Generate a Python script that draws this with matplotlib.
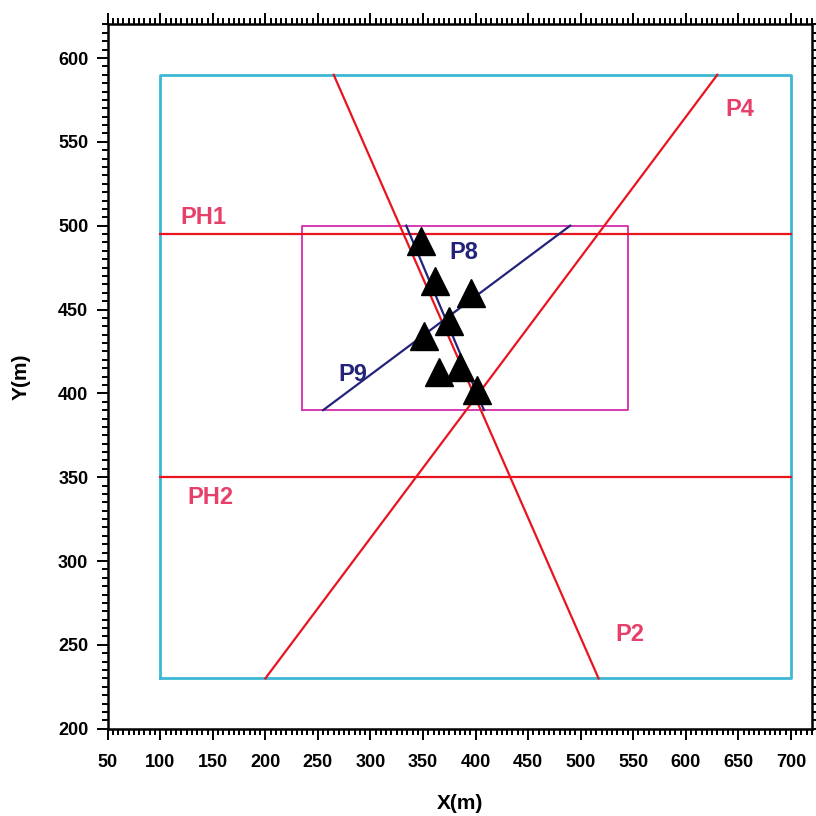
import matplotlib
matplotlib.use("Agg")
import matplotlib.pyplot as plt
from matplotlib.ticker import MultipleLocator

# ---- data ----
# outer (cyan) and inner (magenta) boxes: x0, x1, y0, y1
outer_box = [100, 700, 230, 590]
inner_box = [235, 545, 390, 500]

# profile lines: name -> ([x0, x1], [y0, y1])
red_names = ["PH1", "PH2", "P2", "P4"]
red_x = [[100, 700], [100, 700], [265, 517], [200, 630]]
red_y = [[495, 495], [350, 350], [590, 230], [230, 590]]

blue_names = ["P8", "P9"]
blue_x = [[334, 408], [255, 490]]
blue_y = [[500, 390], [390, 500]]

# label positions
red_lab_x = [141, 148, 547, 651]
red_lab_y = [505, 338, 256, 569]
blue_lab_x = [389, 283]
blue_lab_y = [484, 411]

# stations (triangles)
sta_x = [348, 361, 396, 375, 351, 365, 385, 401]
sta_y = [491, 467, 460, 443, 434, 413, 416, 402]

RED = "#e8141e"
LABEL_RED = "#e6406a"
CYAN = "#3cb8d4"
MAGENTA = "#d93ab0"
NAVY = "#23237a"

plt.rcParams['font.family'] = ['Liberation Sans', 'DejaVu Sans']
plt.rcParams['font.weight'] = 'bold'

fig = plt.figure(figsize=(8.16, 8.16), dpi=100)
ax = fig.add_axes([0.132, 0.107, 0.863, 0.863])

def box(b, color, lw):
    x0, x1, y0, y1 = b
    ax.plot([x0, x1, x1, x0, x0], [y0, y0, y1, y1, y0], color=color, lw=lw)

box(outer_box, CYAN, 2.0)
box(inner_box, MAGENTA, 1.4)

for i in range(len(red_names)):
    ax.plot(red_x[i], red_y[i], color=RED, lw=1.6)
    ax.text(red_lab_x[i], red_lab_y[i], red_names[i], color=LABEL_RED,
            fontsize=17, fontweight='bold', ha='center', va='center')

for i in range(len(blue_names)):
    ax.plot(blue_x[i], blue_y[i], color=NAVY, lw=1.6)
    ax.text(blue_lab_x[i], blue_lab_y[i], blue_names[i], color=NAVY,
            fontsize=17, fontweight='bold', ha='center', va='center')

ax.plot(sta_x, sta_y, '^', color='black', markersize=20, zorder=5)

ax.set_xlim(50, 720)
ax.set_ylim(200, 620)
ax.xaxis.set_major_locator(MultipleLocator(50))
ax.xaxis.set_minor_locator(MultipleLocator(5))
ax.yaxis.set_major_locator(MultipleLocator(50))
ax.yaxis.set_minor_locator(MultipleLocator(5))
ax.tick_params(which='both', direction='out', top=True, right=True,
               width=1.4, labelsize=13)
ax.tick_params(which='major', length=8)
ax.tick_params(which='minor', length=4)
ax.tick_params(axis='x', which='major', pad=10)
ax.tick_params(axis='y', which='major', pad=6)
ax.tick_params(labeltop=False, labelright=False)
for lab in ax.get_xticklabels() + ax.get_yticklabels():
    lab.set_fontweight('bold')
for s in ax.spines.values():
    s.set_linewidth(1.8)

ax.set_xlabel("X(m)", fontsize=15, fontweight='bold', labelpad=17)
ax.set_ylabel("Y(m)", fontsize=15, fontweight='bold', labelpad=20)

fig.savefig("out.png", dpi=100)
